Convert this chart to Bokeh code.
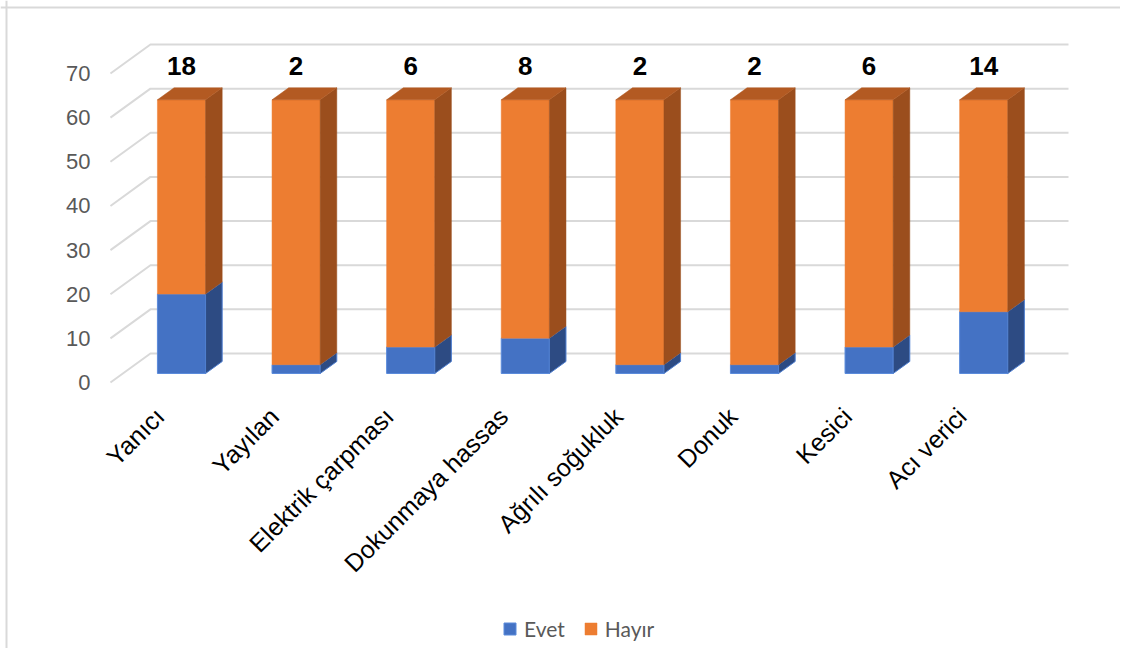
from bokeh.plotting import figure
from bokeh.models import Span, Legend, LegendItem, Range1d
from bokeh.core.properties import value
from bokeh.embed import file_html
from bokeh.resources import INLINE

# ---- data ----
categories = ["Yanıcı", "Yayılan", "Elektrik çarpması", "Dokunmaya hassas",
              "Ağrılı soğukluk", "Donuk", "Kesici", "Acı verici"]
evet = [18, 2, 6, 8, 2, 2, 6, 14]
hayir = [44, 60, 56, 54, 60, 60, 56, 48]
series_names = ["Evet", "Hayır"]
y_ticks = [0, 10, 20, 30, 40, 50, 60, 70]

# ---- style / geometry constants (data units) ----
HALF_W = 0.21       # half bar width
BAR_DX, BAR_DV = 0.145, 2.72   # bar depth offsets
BASE = 2.04         # front face baseline shift
GRID_X0 = -0.62     # front end of the diagonal gridlines
GRID_DX, GRID_DV = 0.349, 6.57
GRID_X1 = 7.74

C_EVET, C_EVET_SIDE = "#4472C4", "#2D4B83"
C_HAYIR, C_HAYIR_SIDE, C_HAYIR_TOP = "#ED7D31", "#9B4E1D", "#B35A22"
GRID_C = "#D9D9D9"
TXT_GRAY = "#595959"

p = figure(width=1120, height=648,
           x_range=Range1d(-1.5794, 8.1937), y_range=Range1d(-60.26, 86.54),
           output_backend="svg", toolbar_location=None, min_border=0)
p.axis.visible = False
p.grid.visible = False
p.outline_line_color = None
p.background_fill_color = "white"

# ---- border (top and left only visible) ----
p.add_layout(Span(location=84.96, dimension="width", line_color=GRID_C, line_width=2))
p.add_layout(Span(location=-1.527, dimension="height", line_color=GRID_C, line_width=2))

# ---- 3D gridlines ----
gx, gy = [], []
for t in y_ticks:
    gx.append([GRID_X0, GRID_X0 + GRID_DX, GRID_X1])
    gy.append([t, t + GRID_DV, t + GRID_DV])
p.multi_line(gx, gy, line_color=GRID_C, line_width=2)

# ---- y tick labels ----
p.text(x=[-0.794] * len(y_ticks), y=y_ticks, text=[str(t) for t in y_ticks],
       text_align="right", text_baseline="middle", text_color=TXT_GRAY,
       text_font=value("Liberation Sans"), text_font_size="22px")

# ---- bars ----
xs = list(range(len(categories)))
e_bot = [BASE] * len(xs)
e_top = [BASE + e for e in evet]
h_top = [BASE + e + h for e, h in zip(evet, hayir)]

def side(x, b, t):
    return ([x + HALF_W, x + HALF_W + BAR_DX, x + HALF_W + BAR_DX, x + HALF_W],
            [b, b + BAR_DV, t + BAR_DV, t])

def top(x, t):
    return ([x - HALF_W, x + HALF_W, x + HALF_W + BAR_DX, x - HALF_W + BAR_DX],
            [t, t, t + BAR_DV, t + BAR_DV])

es = [side(x, b, t) for x, b, t in zip(xs, e_bot, e_top)]
hs = [side(x, b, t) for x, b, t in zip(xs, e_top, h_top)]
ht = [top(x, t) for x, t in zip(xs, h_top)]

r_evet = p.quad(left=[x - HALF_W for x in xs], right=[x + HALF_W for x in xs],
                bottom=e_bot, top=e_top, fill_color=C_EVET, line_color="#5B8BDB", line_width=1)
p.patches([s[0] for s in es], [s[1] for s in es], fill_color=C_EVET_SIDE,
          line_color="#4F7FD0", line_width=1)
r_hayir = p.quad(left=[x - HALF_W for x in xs], right=[x + HALF_W for x in xs],
                 bottom=e_top, top=h_top, fill_color=C_HAYIR, line_color=C_HAYIR, line_width=0.5)
p.patches([s[0] for s in hs], [s[1] for s in hs], fill_color=C_HAYIR_SIDE,
          line_color=C_HAYIR_SIDE, line_width=0.5)
p.patches([s[0] for s in ht], [s[1] for s in ht], fill_color=C_HAYIR_TOP,
          line_color=C_HAYIR_TOP, line_width=0.5)

# ---- data labels (Evet values) ----
p.text(x=xs, y=[71.7] * len(xs), text=[str(e) for e in evet],
       text_align="center", text_baseline="middle", text_color="black",
       text_font=value("Liberation Sans"), text_font_style="bold", text_font_size="26px")

# ---- category labels ----
p.text(x=[x - 0.19 for x in xs], y=[-6.7] * len(xs), text=categories, angle=0.785398,
       text_align="right", text_baseline="middle", text_color="black",
       text_font=value("Liberation Sans"), text_font_size="25px")

# ---- legend ----
legend = Legend(items=[LegendItem(label=series_names[0], renderers=[r_evet]),
                       LegendItem(label=series_names[1], renderers=[r_hayir])],
                orientation="horizontal", location=(502, 7),
                border_line_color=None, background_fill_alpha=0,
                padding=0, margin=0, spacing=18, glyph_width=15, glyph_height=15,
                label_standoff=7, label_text_font="Lato", label_text_font_size="21px",
                label_text_color=TXT_GRAY, label_height=15)
p.add_layout(legend)

open("out.html", "w").write(file_html(p, INLINE))
